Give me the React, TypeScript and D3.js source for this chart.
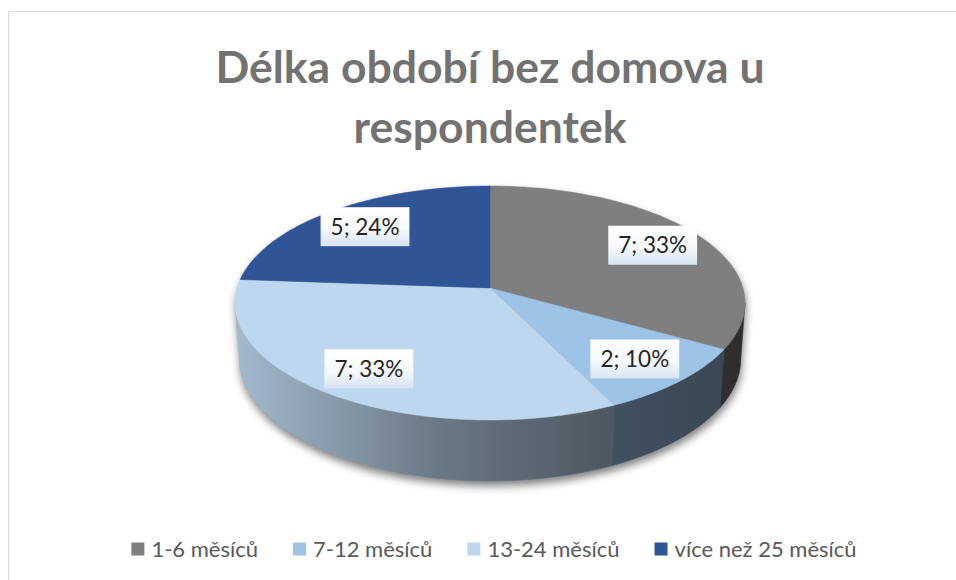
import { useEffect, useRef } from "react";
import * as d3 from "d3";

const categories = ["1-6 měsíců", "7-12 měsíců", "13-24 měsíců", "více než 25 měsíců"];
const values = [7, 2, 7, 5];
const colors = ["#7f7f7f", "#9dc3e6", "#bdd7ee", "#2f5597"];
const titleLines = ["Délka období bez domova u", "respondentek"];

const W = 956;
const H = 580;
const FONT = "Lato, 'Open Sans', sans-serif";

const App = () => {
  const ref = useRef<SVGSVGElement | null>(null);

  useEffect(() => {
    drawChart();
  }, []);

  const drawChart = () => {
    const svg = d3.select(ref.current);
    svg.selectAll("*").remove();
    const defs = svg.append("defs");

    // frame
    svg
      .append("rect")
      .attr("x", 8.5)
      .attr("y", 11.5)
      .attr("width", W)
      .attr("height", H)
      .attr("fill", "#fff")
      .attr("stroke", "#d9d9d9");

    // title
    svg
      .append("g")
      .selectAll("text")
      .data(titleLines)
      .join("text")
      .attr("x", 490)
      .attr("y", (d, i) => 83 + i * 60)
      .attr("text-anchor", "middle")
      .attr("font-family", FONT)
      .attr("font-weight", 700)
      .attr("font-size", 44.5)
      .attr("fill", "#727272")
      .text((d) => d);

    // perspective projection of the pie disc
    const cx = 490;
    const cy = 288;
    const focal = 1755;
    const dist = 6.94;
    const tilt = Math.asin(0.455);
    const thick = 0.25;
    const project = (a: number, r: number, y: number): [number, number] => {
      const x = r * Math.sin(a);
      const z = r * Math.cos(a);
      const yc = y * Math.cos(tilt) + z * Math.sin(tilt);
      const zc = -y * Math.sin(tilt) + z * Math.cos(tilt) + dist;
      return [cx + (focal * x) / zc, cy - (focal * yc) / zc];
    };
    const sample = (a0: number, a1: number, r: number, y: number) => {
      const n = Math.max(2, Math.ceil((Math.abs(a1 - a0) * 180) / Math.PI));
      return d3.range(n + 1).map((i) => project(a0 + ((a1 - a0) * i) / n, r, y));
    };
    const line = d3.line().curve(d3.curveLinear);

    const silL = Math.acos(-Math.cos(tilt) / dist);
    const silR = 2 * Math.PI - silL;

    const total = d3.sum(values);
    const arcs = d3.pie<number>().sort(null).startAngle(0).endAngle(2 * Math.PI)(values);

    // shadow
    const blur = defs.append("filter").attr("id", "shadow").attr("x", "-20%").attr("y", "-20%").attr("width", "140%").attr("height", "140%");
    blur.append("feGaussianBlur").attr("stdDeviation", 4);
    const outline = [...sample(silR - 2 * Math.PI, silL, 1, 0), ...sample(silL, silR, 1, -thick)];
    svg
      .append("path")
      .attr("d", line(outline) + "Z")
      .attr("transform", "translate(1,5)")
      .attr("fill", "#000")
      .attr("opacity", 0.5)
      .attr("filter", "url(#shadow)");

    // side gradients
    const shade = [
      [0, 0.86],
      [0.4, 0.56],
      [0.71, 0.42],
      [1, 0.36],
    ];
    colors.forEach((c, i) => {
      const g = defs
        .append("linearGradient")
        .attr("id", `side${i}`)
        .attr("gradientUnits", "userSpaceOnUse")
        .attr("x1", 236)
        .attr("x2", 746)
        .attr("y1", 0)
        .attr("y2", 0);
      const base = d3.rgb(c);
      g.selectAll("stop")
        .data(shade)
        .join("stop")
        .attr("offset", (d) => d[0])
        .attr("stop-color", (d) => d3.rgb(base.r * d[1], base.g * d[1], base.b * d[1]).formatHex());
    });

    // side walls (front half only)
    const sides = svg.append("g");
    arcs.forEach((a, i) => {
      const a0 = Math.max(a.startAngle, silL);
      const a1 = Math.min(a.endAngle, silR);
      if (a1 <= a0) return;
      const pts = [...sample(a0, a1, 1, 0), ...sample(a1, a0, 1, -thick)];
      sides
        .append("path")
        .attr("d", line(pts) + "Z")
        .attr("fill", `url(#side${i})`)
        .attr("stroke", `url(#side${i})`)
        .attr("stroke-width", 0.5);
    });

    // top faces
    svg
      .append("g")
      .selectAll("path")
      .data(arcs)
      .join("path")
      .attr("d", (a) => line([project(0, 0, 0), ...sample(a.startAngle, a.endAngle, 1, 0)]) + "Z")
      .attr("fill", (a, i) => colors[i])
      .attr("stroke", (a, i) => colors[i])
      .attr("stroke-width", 0.5);

    // data labels
    const lg = defs
      .append("linearGradient")
      .attr("id", "labelBg")
      .attr("x1", 0)
      .attr("x2", 0)
      .attr("y1", 0)
      .attr("y2", 1);
    lg.append("stop").attr("offset", 0).attr("stop-color", "#ffffff");
    lg.append("stop").attr("offset", 0.55).attr("stop-color", "#f6f9fd");
    lg.append("stop").attr("offset", 1).attr("stop-color", "#d7e4f2");

    const labels = svg
      .append("g")
      .selectAll("g")
      .data(arcs)
      .join("g")
      .attr("transform", (a) => {
        const [x, y] = project((a.startAngle + a.endAngle) / 2, 0.78, 0);
        return `translate(${x},${y})`;
      });
    labels
      .append("text")
      .attr("text-anchor", "middle")
      .attr("dy", "0.36em")
      .attr("font-family", FONT)
      .attr("font-size", 22.5)
      .attr("fill", "#262626")
      .text((a) => `${a.data}; ${Math.round((a.data / total) * 100)}%`);
    labels.each(function () {
      const g = d3.select(this);
      const tw = (g.select("text").node() as SVGTextElement).getComputedTextLength();
      g.insert("rect", "text")
        .attr("x", -tw / 2 - 10)
        .attr("y", -19.5)
        .attr("width", tw + 20)
        .attr("height", 39)
        .attr("fill", "url(#labelBg)");
    });

    // legend
    const legend = svg.append("g");
    const items = legend
      .selectAll("g")
      .data(categories)
      .join("g");
    items
      .append("rect")
      .attr("y", -6.5)
      .attr("width", 13)
      .attr("height", 13)
      .attr("fill", (d, i) => colors[i]);
    items
      .append("text")
      .attr("x", 20)
      .attr("dy", "0.36em")
      .attr("font-family", FONT)
      .attr("font-size", 22)
      .attr("fill", "#595959")
      .text((d) => d);
    let xPos = 0;
    items.each(function () {
      const g = d3.select(this);
      const tw = (g.select("text").node() as SVGTextElement).getComputedTextLength();
      g.attr("transform", `translate(${xPos},0)`);
      xPos += 20 + tw + 35;
    });
    const legendWidth = xPos - 35;
    legend.attr("transform", `translate(${494 - legendWidth / 2},549)`);
  };

  return <svg ref={ref} width={W} height={H} style={{ position: "absolute", left: 0, top: 0, background: "#fff" }} />;
};

export default App;
